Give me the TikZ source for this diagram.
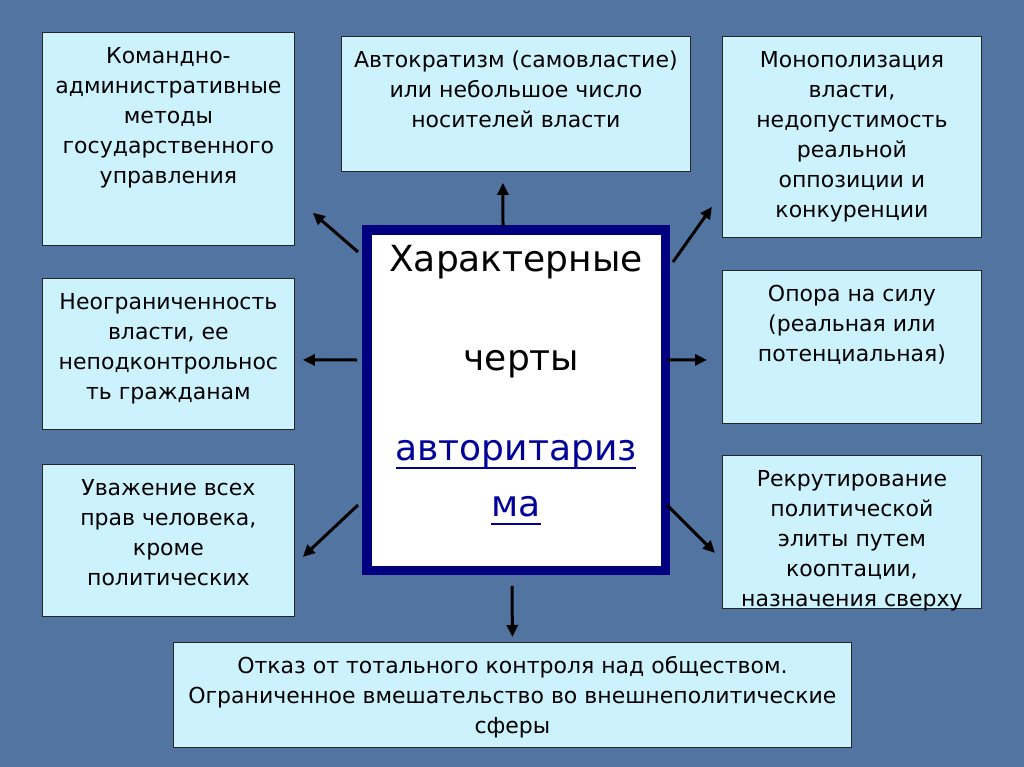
\documentclass[tikz,border=0pt]{standalone}
\usepackage{fontspec}
\setmainfont{DejaVu Sans}
\usetikzlibrary{arrows.meta,positioning}

\definecolor{slide}{HTML}{5274A0}
\definecolor{cellfill}{HTML}{CCF3FD}
\definecolor{frame}{HTML}{000080}
\definecolor{linkblue}{HTML}{000099}

\newsavebox{\linkbox}
\newcommand{\celltext}[3]{\parbox[t][#2][t]{#1}{\centering\rule{0pt}{31pt}#3}}
\newcommand{\linkline}[1]{\leavevmode\sbox{\linkbox}{#1}\rlap{\rule[-8pt]{\wd\linkbox}{2pt}}\usebox{\linkbox}}

\begin{document}
\begin{tikzpicture}[x=1pt,y=-1pt,>={Triangle[length=12pt,width=11pt]},
    cell/.style={draw=black!85,line width=0.8pt,fill=cellfill,inner sep=0pt,anchor=north west,
      font=\fontsize{22}{30}\selectfont},
    arr/.style={->,line width=3pt,black}]
    \fill[slide] (0,0) rectangle (1024,767);

    \node[cell] (kom)    at (42,32)   {\celltext{252pt}{213pt}{Командно-\\административные\\методы\\государственного\\управления}};
    \node[cell] (auto)   at (341,36)  {\celltext{349pt}{135pt}{Автократизм (самовластие)\\или небольшое число\\носителей власти}};
    \node[cell] (mono)   at (722,36)  {\celltext{259pt}{201pt}{Монополизация\\власти,\\недопустимость\\реальной\\оппозиции и\\конкуренции}};
    \node[cell] (neogr)  at (42,278)  {\celltext{252pt}{151pt}{Неограниченность\\власти, ее\\неподконтрольнос\\ть гражданам}};
    \node[cell] (opora)  at (722,270) {\celltext{259pt}{153pt}{Опора на силу\\(реальная или\\потенциальная)}};
    \node[cell] (uvazh)  at (42,464)  {\celltext{252pt}{152pt}{Уважение всех\\прав человека,\\кроме\\политических}};
    \node[cell] (rekrut) at (722,455) {\celltext{259pt}{153pt}{Рекрутирование\\политической\\элиты путем\\кооптации,\\назначения сверху}};
    \node[cell] (otkaz)  at (173,642) {\celltext{678pt}{105pt}{Отказ от тотального контроля над обществом.\\Ограниченное вмешательство во внешнеполитические\\сферы}};

    \node[draw=frame,line width=9.5pt,fill=white,inner sep=0pt,font=\fontsize{36}{56}\selectfont] (ctr) at (516,400)
      {\parbox[t][340.5pt][t]{298.5pt}{\centering\rule{0pt}{42pt}Характерные\\[43pt]
        \hspace*{11pt}черты\\[34pt]
        \color{linkblue}\linkline{авторитариз}\\\linkline{ма}}};

    \path[arr]
    ([xshift=-13pt,yshift=-1pt]ctr.north)  edge ([xshift=-13pt,yshift=-11pt]auto.south)
    ([xshift=-4pt,yshift=-27pt]ctr.north west) edge ([xshift=18pt,yshift=33pt]kom.south east)
    ([xshift=3pt,yshift=-37pt]ctr.north east)  edge ([xshift=-10pt,yshift=31pt]mono.south west)
    ([xshift=-5pt,yshift=40pt]ctr.west)   edge ([xshift=8pt,yshift=-6pt]neogr.east)
    ([xshift=-3pt,yshift=40pt]ctr.east)   edge ([xshift=-15pt,yshift=-13pt]opora.west)
    ([xshift=-4pt,yshift=70pt]ctr.south west)  edge ([xshift=8pt,yshift=-16.5pt]uvazh.east)
    ([xshift=-3pt,yshift=70pt]ctr.south east)  edge ([xshift=-7pt,yshift=-21pt]rekrut.west)
    ([xshift=-4pt,yshift=-11pt]ctr.south) edge ([yshift=5pt]otkaz.north)
    ;
\end{tikzpicture}
\end{document}
